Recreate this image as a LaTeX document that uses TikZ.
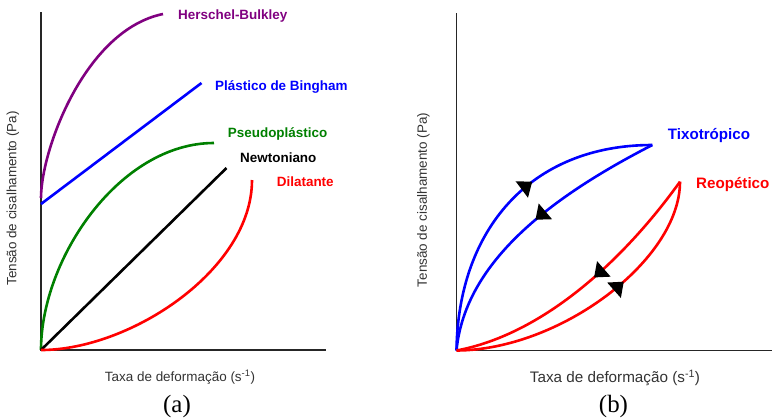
\documentclass[tikz,border=0pt]{standalone}
\usepackage{fontspec}
\setmainfont{Liberation Serif}
\setsansfont{Liberation Sans}
\usetikzlibrary{arrows.meta,decorations.markings}

\definecolor{hbpurple}{RGB}{128,0,128}
\definecolor{psgreen}{RGB}{0,128,0}
\definecolor{labelgray}{RGB}{51,51,51}

\tikzset{
  axisline/.style={line width=1.8bp,black!85},
  curve/.style={line width=2.6bp},
  tag/.style={font=\fontsize{13.5}{16}\selectfont\sffamily\bfseries,anchor=base west,inner sep=0pt},
  tagB/.style={tag,font=\fontsize{15.2}{18}\selectfont\sffamily\bfseries},
  axislabel/.style={font=\fontsize{13.5}{16}\selectfont\sffamily,text=labelgray,inner sep=0pt},
  panel/.style={font=\fontsize{25}{30}\selectfont,inner sep=0pt},
  flowfwd/.style={postaction={decorate},decoration={markings,
    mark=at position #1 with {\arrow{Triangle[length=13bp,width=20bp,color=black]}}}},
  flowback/.style={postaction={decorate},decoration={markings,
    mark=at position #1 with {\arrowreversed{Triangle[length=13bp,width=20bp,color=black]}}}}
}

\begin{document}
\begin{tikzpicture}[x=1bp,y=-1bp]
\useasboundingbox (0,0) rectangle (772,419);

% (a) fluid models
\coordinate (oA) at (41,350);
\coordinate (yA) at (41,12);
\coordinate (xA) at (326,350);
\draw[axisline] (yA) -- (oA) -- (xA);

\coordinate (hb0) at (41,198);
\coordinate (hb1) at (163,14);
\draw[curve,hbpurple] (hb0) .. controls (41,150) and (85,30) .. (hb1);
\coordinate (bg0) at (41,204);
\coordinate (bg1) at (201.5,83);
\draw[curve,blue] (bg0) -- (bg1);
\coordinate (ps1) at (214,143);
\draw[curve,psgreen] (oA) .. controls (41,258) and (120,143) .. (ps1);
\coordinate (nw1) at (226.5,168);
\draw[curve,black] (oA) -- (nw1);
\coordinate (dl1) at (252,180);
\draw[curve,red] (oA) .. controls (130,350) and (252,270) .. (dl1);

\node[tag,hbpurple] (hbL) at (178,19.3) {Herschel-Bulkley};
\node[tag,blue] (bgL) at (215,90) {Plástico de Bingham};
\node[tag,psgreen] (psL) at (227.7,137.3) {Pseudoplástico};
\node[tag,black] (nwL) at (240,162.3) {Newtoniano};
\node[tag,red] (dlL) at (276.7,186) {Dilatante};

\node[axislabel,anchor=base] (xlabA) at (180,381.7) {Taxa de deformação (s\textsuperscript{-1})};
\node[axislabel,rotate=90] (ylabA) at (13,198.5) {Tensão de cisalhamento (Pa)};
\node[panel] (capA) at (177,406) {(a)};

% (b) hysteresis loops
\coordinate (oB) at (456.5,350.5);
\coordinate (yB) at (456.5,13);
\coordinate (xB) at (772,350.5);
\draw[axisline] (yB) -- (oB) -- (xB);

\coordinate (tx1) at (652.3,145);
\draw[curve,blue,flowfwd=0.6] (oB) .. controls (458,230) and (530,145) .. (tx1);
\draw[curve,blue,flowback=0.53] (oB) .. controls (465,260) and (555,195) .. (tx1);
\coordinate (rp1) at (680,181.7);
\draw[curve,red,flowback=0.55] (oB) .. controls (540,335) and (620,265) .. (rp1);
\draw[curve,red,flowfwd=0.61] (oB) .. controls (560,350) and (680,260) .. (rp1);

\node[tagB,blue] (txL) at (667.7,139.3) {Tixotrópico};
\node[tagB,red] (rpL) at (696,188.3) {Reopético};

\node[axislabel,font=\fontsize{15.3}{18}\selectfont\sffamily,anchor=base] (xlabB) at (615,382.3) {Taxa de deformação (s\textsuperscript{-1})};
\node[axislabel,rotate=90] (ylabB) at (423.5,200) {Tensão de cisalhamento (Pa)};
\node[panel] (capB) at (613.5,406) {(b)};
\end{tikzpicture}
\end{document}
